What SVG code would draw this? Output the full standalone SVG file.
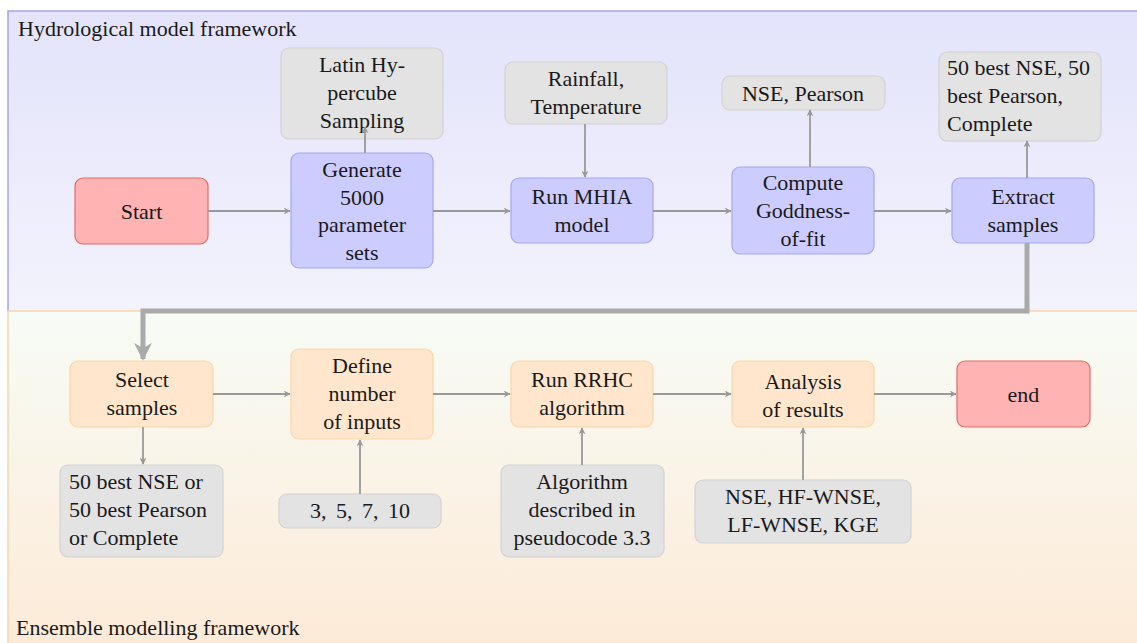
<svg xmlns="http://www.w3.org/2000/svg" width="1137" height="643" viewBox="0 0 1137 643">
<defs>
<linearGradient id="gTop" x1="0" y1="0" x2="0" y2="1">
<stop offset="0" stop-color="#e3e3fb"/>
<stop offset="1" stop-color="#f3f3fd"/>
</linearGradient>
<linearGradient id="gBot" x1="0" y1="0" x2="0" y2="1">
<stop offset="0" stop-color="#f7fcf6"/>
<stop offset="1" stop-color="#fdead7"/>
</linearGradient>
<marker id="arr" viewBox="0 0 10 10" refX="9" refY="5" markerWidth="7" markerHeight="7" markerUnits="userSpaceOnUse" orient="auto">
<path d="M0,0 L10,5 L0,10 L3,5 Z" fill="#999999"/>
</marker>
<marker id="arrBig" viewBox="0 0 10 10" refX="9" refY="5" markerWidth="3.6" markerHeight="3.6" orient="auto">
<path d="M0,0 L10,5 L0,10 L3,5 Z" fill="#aaaaaa"/>
</marker>
</defs>
<style>
text{font-family:"Liberation Serif","DejaVu Serif","Noto Serif","Tinos","FreeSerif","Nimbus Roman","Times New Roman",Times,Georgia,serif;font-size:22px;fill:#1a1a1a;text-anchor:middle}
.l{text-anchor:start}
.red{fill:#ffb3b3;stroke:#e36a6a;stroke-width:1.2}
.blue{fill:#ccccff;stroke:#a6a6f2;stroke-width:1.2}
.gray{fill:#e3e3e3;stroke:#d2d2d2;stroke-width:1.2}
.org{fill:#ffe6cc;stroke:#fdd5a8;stroke-width:1.2}
.c{fill:none;stroke:#999999;stroke-width:1.8;marker-end:url(#arr)}
</style>
<g id="panels">
<rect x="8" y="11" width="1140" height="300" fill="url(#gTop)"/>
<path d="M8,311 V11 H1137" fill="none" stroke="#a3a3f0" stroke-width="1.5"/>
<rect x="8" y="311" width="1140" height="340" fill="url(#gBot)"/>
<path d="M8,643 V311 H1137" fill="none" stroke="#fbd3a8" stroke-width="1.5"/>
<text class="l" x="18" y="36">Hydrological model framework</text>
<text class="l" x="16" y="635">Ensemble modelling framework</text>
</g>
<g id="start"><rect class="red" x="75" y="178" width="133" height="66" rx="8"/><text x="141.5" y="219">Start</text></g>
<g id="generate"><rect class="blue" x="291" y="153" width="142" height="115" rx="8"/>
<text x="362" y="177">Generate</text><text x="362" y="205">5000</text><text x="362" y="232">parameter</text><text x="362" y="260">sets</text></g>
<g id="lhs"><rect class="gray" x="281" y="48" width="162" height="91" rx="8"/>
<text x="362" y="72">Latin Hy-</text><text x="362" y="100">percube</text><text x="362" y="128">Sampling</text></g>
<g id="rainfall"><rect class="gray" x="505" y="62" width="162" height="62" rx="8"/>
<text x="586" y="86">Rainfall,</text><text x="586" y="114">Temperature</text></g>
<g id="runmhia"><rect class="blue" x="511" y="178" width="142" height="65" rx="8"/>
<text x="582" y="204">Run MHIA</text><text x="582" y="232">model</text></g>
<g id="nsepearson"><rect class="gray" x="722" y="76" width="163" height="34" rx="8"/>
<text x="803" y="101">NSE, Pearson</text></g>
<g id="compute"><rect class="blue" x="732" y="167" width="142" height="87" rx="8"/>
<text x="803" y="190">Compute</text><text x="803" y="218">Goddness-</text><text x="803" y="246">of-fit</text></g>
<g id="extract"><rect class="blue" x="952" y="178" width="142" height="65" rx="8"/>
<text x="1023" y="204">Extract</text><text x="1023" y="232">samples</text></g>
<g id="best50"><rect class="gray" x="939" y="52" width="162" height="89" rx="8"/>
<text class="l" x="947" y="75">50 best NSE, 50</text><text class="l" x="947" y="103">best Pearson,</text><text class="l" x="947" y="131">Complete</text></g>
<g id="select"><rect class="org" x="70" y="361" width="143" height="66" rx="8"/>
<text x="142" y="387">Select</text><text x="142" y="415">samples</text></g>
<g id="selopts"><rect class="gray" x="60" y="465" width="163" height="92" rx="8"/>
<text class="l" x="69" y="489">50 best NSE or</text><text class="l" x="69" y="517">50 best Pearson</text><text class="l" x="69" y="545">or Complete</text></g>
<g id="define"><rect class="org" x="291" y="349" width="142" height="90" rx="8"/>
<text x="362" y="373">Define</text><text x="362" y="401">number</text><text x="362" y="429">of inputs</text></g>
<g id="inputs"><rect class="gray" x="279" y="494" width="162" height="34" rx="8"/>
<text x="360" y="518" style="word-spacing:4px">3, 5, 7, 10</text></g>
<g id="rrhc"><rect class="org" x="511" y="361" width="142" height="66" rx="8"/>
<text x="582" y="387">Run RRHC</text><text x="582" y="415">algorithm</text></g>
<g id="algo"><rect class="gray" x="501" y="465" width="163" height="92" rx="8"/>
<text x="582" y="489">Algorithm</text><text x="582" y="517">described in</text><text x="582" y="545">pseudocode 3.3</text></g>
<g id="analysis"><rect class="org" x="732" y="361" width="142" height="66" rx="8"/>
<text x="803" y="389">Analysis</text><text x="803" y="417">of results</text></g>
<g id="metrics"><rect class="gray" x="695" y="480" width="216" height="63" rx="8"/>
<text x="803" y="504">NSE, HF-WNSE,</text><text x="803" y="532">LF-WNSE, KGE</text></g>
<g id="end"><rect class="red" x="957" y="361" width="133" height="66" rx="8"/><text x="1023.5" y="402">end</text></g>
<g id="connectors">
<path class="c" d="M208,211 H290"/>
<path class="c" d="M433,211 H510"/>
<path class="c" d="M653,211 H731"/>
<path class="c" d="M874,211 H951"/>
<path class="c" d="M365,153 V127"/>
<path class="c" d="M585,124 V177"/>
<path class="c" d="M810,167 V110"/>
<path class="c" d="M1027,178 V141"/>
<path d="M1027,243 V311 H143 V359" fill="none" stroke="#aaaaaa" stroke-width="5" marker-end="url(#arrBig)"/>
<path class="c" d="M213,394 H290"/>
<path class="c" d="M433,394 H510"/>
<path class="c" d="M653,394 H731"/>
<path class="c" d="M874,394 H956"/>
<path class="c" d="M143,427 V464"/>
<path class="c" d="M360,494 V440"/>
<path class="c" d="M582,465 V428"/>
<path class="c" d="M803,480 V428"/>
</g>
</svg>
